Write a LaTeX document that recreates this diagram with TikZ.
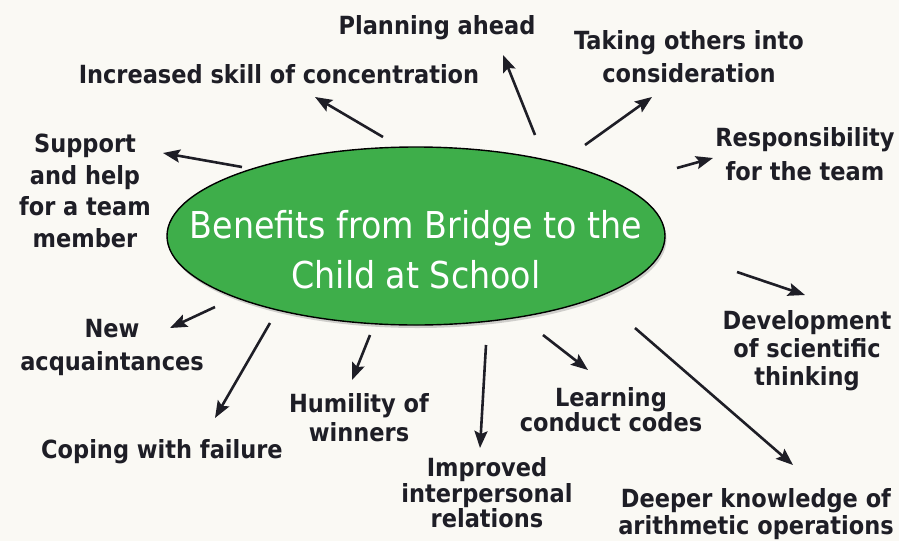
\documentclass[tikz,border=0pt]{standalone}
\usepackage{fontspec}
\setmainfont{DejaVu Sans Condensed}
\usetikzlibrary{arrows.meta,shadows,shapes.geometric}
\definecolor{bg}{HTML}{FAF9F4}
\definecolor{leaf}{HTML}{3EAE4A}
\definecolor{ink}{HTML}{1E1E26}
\tikzset{
  lbl/.style={align=center,inner sep=0pt,text=ink,font=\fontsize{25}{#1}\selectfont\bfseries},
  lbl/.default=33,
  arr/.style={draw=ink,line width=2.6pt,-{Stealth[length=17pt,width=13pt,inset=3pt]}},
  hub/.style={ellipse,draw=black,line width=1.4pt,fill=leaf,minimum width=498pt,minimum height=178pt,inner sep=0pt,
     drop shadow={opacity=0.35,shadow xshift=1.5pt,shadow yshift=-3pt}},
  hubtext/.style={align=center,inner sep=0pt,text=white,font=\fontsize{37}{50}\selectfont}
}
\begin{document}
\begin{tikzpicture}[x=1pt,y=-1pt]
\path[use as bounding box,fill=bg] (0,0) rectangle (899,541);
\node[hub] (E) at (416,236) {};
\node[hubtext] (T) at (416,250) {Benefits from Bridge to the\\Child at School};

\node[lbl] (L1) at (437,28) {Planning ahead};
\node[lbl] (L2) at (279,74) {Increased skill of concentration};
\node[lbl=33] (L3) at (689,57) {Taking others into\\consideration};
\node[lbl=34] (L4) at (805,154.5) {Responsibility\\for the team};
\node[lbl=31.5] (L5) at (85,190.7) {Support\\and help\\for a team\\member};
\node[lbl=33] (L6) at (112,347) {New\\acquaintances};
\node[lbl] (L7) at (162,452) {Coping with failure};
\node[lbl=29] (L8) at (359,418) {Humility of\\winners};
\node[lbl=25.5] (L9) at (487,493) {Improved\\interpersonal\\relations};
\node[lbl=25] (L10) at (611,410) {Learning\\conduct codes};
\node[lbl=28] (L11) at (807,350.5) {Development\\of scientific\\thinking};
\node[lbl=27] (L12) at (756,514) {Deeper knowledge of\\arithmetic operations};

\coordinate (s1) at (535,135);  \coordinate (t1) at (503,55);
\coordinate (s2) at (383,137);  \coordinate (t2) at (315,97);
\coordinate (s3) at (585,145);  \coordinate (t3) at (652,97);
\coordinate (s4) at (677,168);  \coordinate (t4) at (713,158);
\coordinate (s5) at (242,167);  \coordinate (t5) at (163,153);
\coordinate (s6) at (215,307);  \coordinate (t6) at (170,328);
\coordinate (s7) at (270,323);  \coordinate (t7) at (215,418);
\coordinate (s8) at (370,335);  \coordinate (t8) at (352,380);
\coordinate (s9) at (486,345);  \coordinate (t9) at (480,448);
\coordinate (s10) at (543,335); \coordinate (t10) at (588,370);
\coordinate (s11) at (737,272); \coordinate (t11) at (805,295);
\coordinate (s12) at (635,328); \coordinate (t12) at (793,465);

\foreach \i in {1,...,12} {\draw[arr] (s\i) -- (t\i);}
\end{tikzpicture}
\end{document}
